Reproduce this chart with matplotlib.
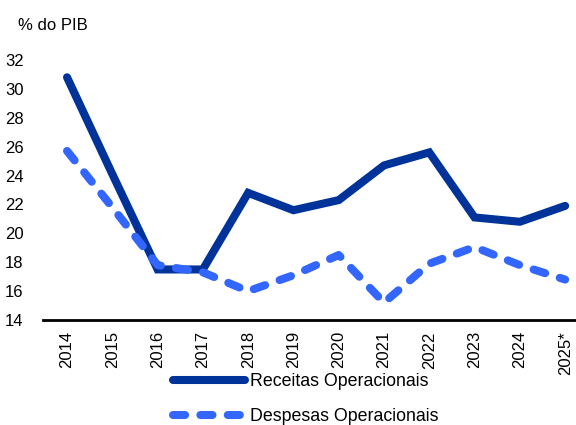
import numpy as np
import matplotlib.pyplot as plt

plt.rcParams['font.family'] = ['Liberation Sans', 'DejaVu Sans']

anos = ['2014', '2015', '2016', '2017', '2018', '2019', '2020',
        '2021', '2022', '2023', '2024', '2025*']
receitas = [30.8, 24.1, 17.5, 17.5, 22.8, 21.6, 22.3, 24.7, 25.6, 21.1, 20.8, 21.9]
despesas = [25.7, 21.8, 17.8, 17.3, 16.0, 17.1, 18.5, 15.2, 17.9, 19.05, 17.8, 16.8]

fig = plt.figure(figsize=(5.76, 4.25), dpi=100)
ax = fig.add_axes([0.0747, 0.247, 0.9253, 0.612])

x = np.arange(len(anos))
lw = 5.8
ax.plot(x, receitas, color='#003399', lw=lw, solid_capstyle='round',
        solid_joinstyle='miter', label='Receitas Operacionais')
ax.plot(x, despesas, color='#3366FF', lw=lw, dashes=(1.5, 1.9),
        dash_capstyle='round', label='Despesas Operacionais')

ax.set_xlim(-0.53, 11.24)
ax.set_ylim(14, 32)
ax.set_yticks(np.arange(14, 33, 2))
ax.set_xticks(x)
ax.set_xticklabels(anos, rotation=90)
ax.tick_params(axis='both', length=0, labelsize=12, colors='black')
ax.tick_params(axis='y', pad=14)
ax.tick_params(axis='x', pad=8)
for s in ['top', 'right', 'left']:
    ax.spines[s].set_visible(False)
ax.spines['bottom'].set_linewidth(2)

fig.text(0.031, 0.94, '% do PIB', fontsize=12, va='center')

fig.legend(loc='center left', bbox_to_anchor=(0.30, 0.061),
           bbox_transform=fig.transFigure, frameon=False, fontsize=12.8,
           handlelength=4.05, handletextpad=0.28, labelspacing=1.0,
           borderpad=0, borderaxespad=0)

fig.savefig('out.png', dpi=100)
